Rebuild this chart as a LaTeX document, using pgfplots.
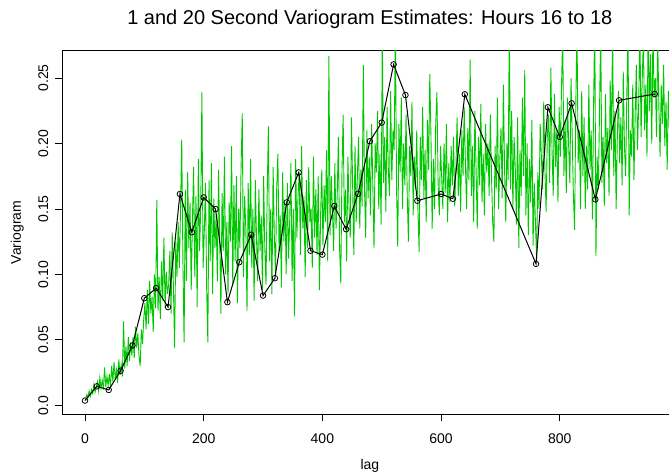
\documentclass[border=0pt]{standalone}
\usepackage{fontspec}
\setmainfont{Liberation Sans}
\usepackage{pgfplots}
\pgfplotsset{compat=1.18}
\definecolor{green3}{RGB}{0,200,0}
\begin{document}
\begin{tikzpicture}
\begin{axis}[
  scale only axis,
  width=615.3bp, height=363bp,
  xmin=-38.4, xmax=998.4,
  ymin=-0.00667, ymax=0.27067,
  xtick={0,200,400,600,800},
  xticklabels={0,200,400,600,800},
  ytick={0,0.05,0.10,0.15,0.20,0.25},
  yticklabels={0.0,0.05,0.10,0.15,0.20,0.25},
  xtick pos=bottom, ytick pos=left,
  tick align=outside,
  major tick length=7bp,
  tick style={black, line width=0.8bp},
  axis line style={black, line width=1bp},
  ticklabel style={font=\fontsize{14bp}{16bp}\selectfont},
  yticklabel style={rotate=90, anchor=base},
  xticklabel style={anchor=base},
  xticklabel shift=22bp,
  yticklabel shift=7bp,
  title={1 and 20 Second Variogram Estimates: Hours 16 to 18},
  title style={font=\fontsize{20bp}{23bp}\selectfont, at={(axis description cs:0.5,1)}, anchor=base, yshift=21bp},
  xlabel={lag},
  xlabel style={font=\fontsize{14bp}{16bp}\selectfont, at={([yshift=-55.5bp]axis description cs:0.5,0)}, anchor=base},
  ylabel={Variogram},
  ylabel style={font=\fontsize{14bp}{16bp}\selectfont, at={([xshift=-41.2bp]axis description cs:0,0.5)}, anchor=base, rotate=0},
  clip=true,
]
\addplot[green3, line width=0.9bp] coordinates {
(1,0.004)(3,0.008)(5,0.006)(7,0.011)(9,0.007)(11,0.012)(13,0.009)(15,0.016)(17,0.010)(19,0.014)
(21,0.018)(23,0.011)(25,0.021)(27,0.013)(29,0.019)(31,0.012)(33,0.029)(35,0.014)(37,0.022)(39,0.015)
(41,0.024)(43,0.014)(45,0.030)(47,0.018)(49,0.033)(51,0.020)(53,0.027)(55,0.017)(57,0.035)(59,0.023)
(61,0.031)(63,0.022)(65,0.064)(67,0.028)(69,0.045)(71,0.030)(73,0.052)(75,0.034)(77,0.048)(79,0.038)
(81,0.052)(83,0.036)(85,0.060)(87,0.044)(89,0.055)(91,0.038)(93,0.030)(95,0.058)(97,0.047)(99,0.066)
(101,0.078)(103,0.058)(105,0.088)(107,0.062)(109,0.095)(111,0.070)(113,0.083)(115,0.056)(117,0.100)(119,0.074)
(121,0.157)(123,0.072)(125,0.098)(127,0.066)(129,0.110)(131,0.080)(133,0.128)(135,0.075)(137,0.102)(139,0.085)
(141,0.092)(143,0.118)(145,0.070)(147,0.132)(149,0.090)(151,0.044)(153,0.125)(155,0.098)(157,0.140)(159,0.105)
(161,0.150)(163,0.203)(165,0.110)(167,0.048)(169,0.165)(171,0.095)(173,0.178)(175,0.120)(177,0.155)(179,0.088)
(181,0.140)(183,0.182)(185,0.098)(187,0.160)(189,0.075)(191,0.188)(193,0.118)(195,0.150)(197,0.239)(199,0.105)
(201,0.132)(203,0.170)(205,0.090)(207,0.048)(209,0.172)(211,0.110)(213,0.185)(215,0.085)(217,0.158)(219,0.120)
(221,0.145)(223,0.095)(225,0.180)(227,0.128)(229,0.070)(231,0.162)(233,0.118)(235,0.190)(237,0.100)(239,0.140)
(241,0.085)(243,0.155)(245,0.125)(247,0.198)(249,0.092)(251,0.168)(253,0.110)(255,0.175)(257,0.078)(259,0.150)
(261,0.120)(263,0.182)(265,0.223)(267,0.098)(269,0.160)(271,0.135)(273,0.072)(275,0.170)(277,0.115)(279,0.188)
(281,0.105)(283,0.150)(285,0.080)(287,0.172)(289,0.128)(291,0.095)(293,0.165)(295,0.118)(297,0.145)(299,0.088)
(301,0.175)(303,0.120)(305,0.092)(307,0.160)(309,0.213)(311,0.110)(313,0.150)(315,0.085)(317,0.182)(319,0.130)
(321,0.100)(323,0.165)(325,0.192)(327,0.118)(329,0.145)(331,0.090)(333,0.178)(335,0.125)(337,0.155)(339,0.100)
(341,0.170)(343,0.112)(345,0.142)(347,0.185)(349,0.095)(351,0.150)(353,0.068)(355,0.188)(357,0.128)(359,0.160)
(361,0.178)(363,0.115)(365,0.198)(367,0.135)(369,0.160)(371,0.098)(373,0.172)(375,0.120)(377,0.182)(379,0.140)
(381,0.150)(383,0.105)(385,0.190)(387,0.128)(389,0.165)(391,0.115)(393,0.175)(395,0.088)(397,0.145)(399,0.180)
(401,0.122)(403,0.168)(405,0.140)(407,0.195)(409,0.110)(411,0.267)(413,0.130)(415,0.175)(417,0.148)(419,0.118)
(421,0.185)(423,0.135)(425,0.160)(427,0.205)(429,0.120)(431,0.093)(433,0.178)(435,0.222)(437,0.140)(439,0.165)
(441,0.110)(443,0.190)(445,0.150)(447,0.128)(449,0.220)(451,0.168)(453,0.115)(455,0.198)(457,0.140)(459,0.175)
(461,0.205)(463,0.135)(465,0.180)(467,0.152)(469,0.260)(471,0.165)(473,0.128)(475,0.210)(477,0.158)(479,0.190)
(481,0.145)(483,0.215)(485,0.168)(487,0.120)(489,0.200)(491,0.178)(493,0.225)(495,0.150)(497,0.192)(499,0.138)
(501,0.285)(503,0.170)(505,0.205)(507,0.148)(509,0.228)(511,0.182)(513,0.160)(515,0.240)(517,0.172)(519,0.210)
(521,0.195)(523,0.290)(525,0.165)(527,0.121)(529,0.215)(531,0.178)(533,0.235)(535,0.150)(537,0.200)(539,0.168)
(541,0.222)(543,0.160)(545,0.125)(547,0.198)(549,0.175)(551,0.232)(553,0.145)(555,0.190)(557,0.165)(559,0.210)
(561,0.150)(563,0.117)(565,0.205)(567,0.172)(569,0.228)(571,0.158)(573,0.195)(575,0.140)(577,0.218)(579,0.180)
(581,0.253)(583,0.205)(585,0.135)(587,0.188)(589,0.150)(591,0.215)(593,0.239)(595,0.170)(597,0.145)(599,0.198)
(601,0.175)(603,0.150)(605,0.200)(607,0.162)(609,0.215)(611,0.140)(613,0.185)(615,0.155)(617,0.198)(619,0.168)
(621,0.205)(623,0.152)(625,0.180)(627,0.220)(629,0.160)(631,0.192)(633,0.148)(635,0.210)(637,0.175)(639,0.228)
(641,0.185)(643,0.150)(645,0.212)(647,0.172)(649,0.264)(651,0.160)(653,0.198)(655,0.140)(657,0.225)(659,0.180)
(661,0.135)(663,0.205)(665,0.168)(667,0.230)(669,0.155)(671,0.192)(673,0.145)(675,0.215)(677,0.178)(679,0.200)
(681,0.160)(683,0.222)(685,0.175)(687,0.140)(689,0.125)(691,0.198)(693,0.165)(695,0.235)(697,0.150)(699,0.188)
(701,0.212)(703,0.158)(705,0.245)(707,0.180)(709,0.140)(711,0.200)(713,0.172)(715,0.292)(717,0.165)(719,0.225)
(721,0.150)(723,0.205)(725,0.182)(727,0.138)(729,0.220)(731,0.120)(733,0.195)(735,0.160)(737,0.235)(739,0.175)
(741,0.256)(743,0.145)(745,0.200)(747,0.130)(749,0.188)(751,0.155)(753,0.218)(755,0.122)(757,0.170)(759,0.140)
(761,0.111)(763,0.178)(765,0.150)(767,0.215)(769,0.190)(771,0.165)(773,0.232)(775,0.180)(777,0.148)(779,0.205)
(781,0.222)(783,0.170)(785,0.258)(787,0.195)(789,0.160)(791,0.238)(793,0.182)(795,0.210)(797,0.155)(799,0.228)
(801,0.190)(803,0.245)(805,0.285)(807,0.175)(809,0.218)(811,0.162)(813,0.235)(815,0.198)(817,0.170)(819,0.250)
(821,0.205)(823,0.160)(825,0.134)(827,0.228)(829,0.290)(831,0.185)(833,0.210)(835,0.150)(837,0.240)(839,0.175)
(841,0.220)(843,0.150)(845,0.198)(847,0.165)(849,0.245)(851,0.180)(853,0.210)(855,0.142)(857,0.230)(859,0.295)
(861,0.114)(863,0.190)(865,0.165)(867,0.225)(869,0.288)(871,0.170)(873,0.205)(875,0.152)(877,0.238)(879,0.185)
(881,0.212)(883,0.160)(885,0.248)(887,0.195)(889,0.290)(891,0.175)(893,0.225)(895,0.150)(897,0.205)(899,0.240)
(901,0.185)(903,0.220)(905,0.168)(907,0.255)(909,0.198)(911,0.175)(913,0.238)(915,0.285)(917,0.145)(919,0.210)
(921,0.190)(923,0.245)(925,0.172)(927,0.220)(929,0.260)(931,0.195)(933,0.230)(935,0.290)(937,0.205)(939,0.250)
(941,0.280)(943,0.210)(945,0.245)(947,0.190)(949,0.295)(951,0.225)(953,0.268)(955,0.200)(957,0.285)(959,0.235)
(961,0.250)(963,0.205)(965,0.282)(967,0.228)(969,0.190)(971,0.245)(973,0.215)(975,0.260)(977,0.198)(979,0.232)
(981,0.180)(983,0.240)(985,0.210)(987,0.250)(989,0.195)(991,0.235)(993,0.220)(995,0.255)(997,0.205)
};
\addplot[black, line width=1bp, mark=o, mark size=2.8bp, mark options={line width=0.8bp, fill=none}] coordinates {
(0,0.0036)(20,0.0145)(40,0.0117)(60,0.0264)(80,0.0457)(100,0.0818)(120,0.0895)(140,0.0750)
(160,0.1614)(180,0.1322)(200,0.1588)(220,0.1499)(240,0.0788)(260,0.1093)(280,0.1303)(300,0.0838)
(320,0.0971)(340,0.1550)(360,0.1779)(380,0.1181)(400,0.1151)(420,0.1522)(440,0.1345)(460,0.1616)
(480,0.2017)(500,0.2160)(520,0.2604)(540,0.2370)(560,0.1563)(600,0.1614)(620,0.1578)(640,0.2376)
(760,0.1080)(780,0.2277)(800,0.2050)(820,0.2307)(860,0.1573)(900,0.2330)(960,0.2378)
};
\end{axis}
\pgfresetboundingbox
\path[use as bounding box] (-62.2bp,-60bp) rectangle (606.8bp,414bp);
\end{tikzpicture}
\end{document}
